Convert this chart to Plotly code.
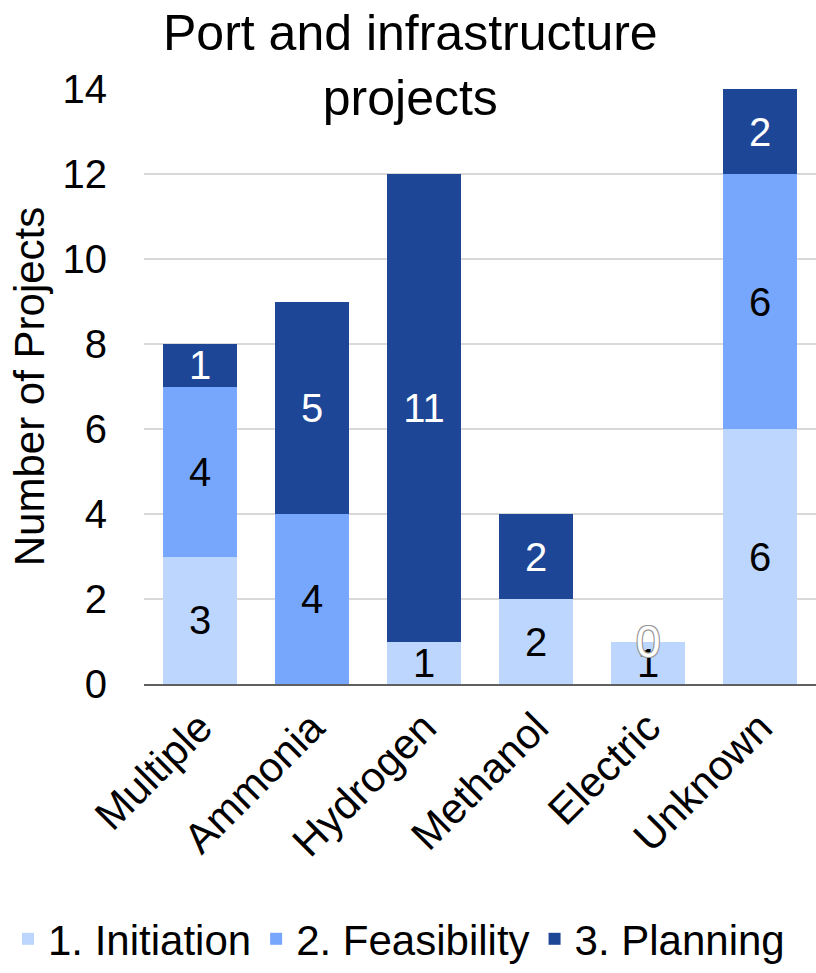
import plotly.graph_objects as go

categories = ["Multiple", "Ammonia", "Hydrogen", "Methanol", "Electric", "Unknown"]
initiation = [3, 0, 1, 2, 1, 6]
feasibility = [4, 4, 0, 0, 0, 6]
planning = [1, 5, 11, 2, 0, 2]
series_names = ["1. Initiation", "2. Feasibility", "3. Planning"]
colors = ["#BDD6FE", "#77A7FC", "#1D4697"]
text_colors = ["black", "black", "white"]
y_ticks = [0, 2, 4, 6, 8, 10, 12, 14]

FONT = "Liberation Sans, Arial, sans-serif"
PLOT_W, PLOT_H, ML, MT = 672, 596, 144, 89

fig = go.Figure()
for name, vals, col, tcol in zip(series_names, [initiation, feasibility, planning], colors, text_colors):
    fig.add_trace(go.Bar(
        x=categories, y=vals, name=name,
        marker=dict(color=col, line=dict(width=0)),
        text=[str(v) if v != 0 else "" for v in vals],
        textposition="inside", insidetextanchor="middle",
        constraintext="none", textangle=0,
        textfont=dict(family=FONT, size=40, color=tcol),
        hoverinfo="skip",
    ))

# zero label for Electric feasibility (drawn at the top of its stack)
fig.add_annotation(
    x=categories[4], y=initiation[4] + feasibility[4], xref="x", yref="y",
    text=str(feasibility[4]), showarrow=False, yanchor="middle",
    font=dict(family=FONT, size=44, color="white",
              shadow="-1px -1px 0 #999, 1px -1px 0 #999, -1px 1px 0 #999, 1px 1px 0 #999"),
)

# chart title
fig.add_annotation(
    text="Port and infrastructure<br>projects", xref="paper", yref="paper",
    x=(410 - ML) / PLOT_W, y=1 + 86 / PLOT_H, xanchor="center", yanchor="top",
    showarrow=False, font=dict(family=FONT, size=50, color="black"),
)

fig.update_layout(
    barmode="stack",
    bargap=0.34,
    width=816, height=973,
    margin=dict(l=ML, r=0, t=MT, b=288),
    paper_bgcolor="white", plot_bgcolor="white",
    font=dict(family=FONT, size=40, color="black"),
    legend=dict(orientation="h", x=-(ML - 8) / PLOT_W, xanchor="left",
                y=-(940 - 685) / PLOT_H, yanchor="middle", traceorder="normal",
                font=dict(family=FONT, size=42, color="black"),
                itemwidth=30, tracegroupgap=0, bgcolor="rgba(0,0,0,0)"),
    showlegend=True,
)
fig.update_yaxes(range=[0, 14], tickvals=y_ticks, showgrid=True, gridcolor="#D9D9D9",
                 gridwidth=2, zeroline=False, ticks="", ticklabelstandoff=36,
                 tickfont=dict(family=FONT, size=40),
                 title=dict(text="Number of Projects", font=dict(family=FONT, size=42), standoff=4))
fig.update_xaxes(showline=True, linecolor="#5F5F5F", linewidth=2, ticks="",
                 tickangle=-45, tickfont=dict(family=FONT, size=42))

fig.write_html("out.html")
